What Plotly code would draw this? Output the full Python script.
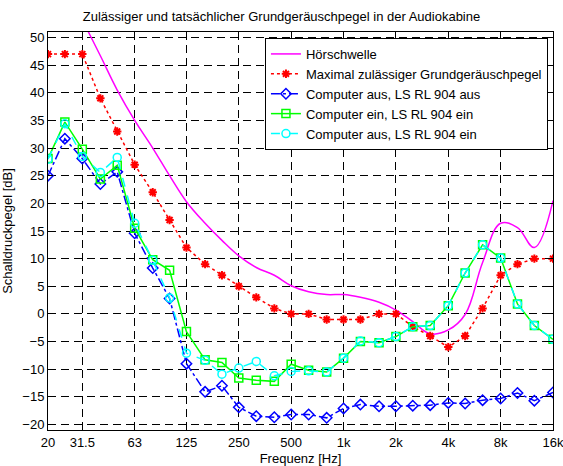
import plotly.graph_objects as go

freqs = [20, 25, 31.5, 40, 50, 63, 80, 100, 125, 160, 200, 250, 315, 400, 500,
         630, 800, 1000, 1250, 1600, 2000, 2500, 3150, 4000, 5000, 6300, 8000,
         10000, 12500, 16000]

hoerschwelle = [65.5, 59.5, 53.2, 46.7, 40.5, 35.0, 30.0, 25.0, 20.3, 16.4, 13.3, 10.5,
                8.4, 7.0, 5.1, 4.0, 3.5, 3.5, 3.0, 2.1, 0.7, -1.4, -3.6, -2.9, -0.1,
                9.3, 16.4, 15.6, 12.0, 20.5]

max_zul = [47, 47, 47, 39, 33, 27, 22, 17, 12, 9, 7, 5, 3, 1, 0, 0, -1, -1, -1, 0, 0,
           -2.3, -4, -6, -4, 1, 7, 9, 10, 10]

aus_aus = [25, 31.7, 28.1, 23.5, 25.7, 14.6, 8.3, 2.8, -9.0, -14.1, -13.0, -16.9,
           -18.5, -18.7, -18.2, -18.2, -18.8, -17.1, -16.4, -16.7, -16.7, -16.6,
           -16.5, -16.1, -16.2, -15.6, -15.3, -14.3, -15.7, -14.2]

ein_ein = [28.1, 34.7, 29.8, 24.4, 26.9, 15.5, 9.8, 7.9, -3.2, -8.3, -8.8, -11.6,
           -12.0, -12.2, -9.1, -10.2, -10.5, -8.0, -5.0, -5.2, -4.1, -2.3, -2.1,
           1.5, 7.4, 12.5, 10.1, 1.8, -2.1, -4.6]

aus_ein = [28.0, 34.4, 28.5, 25.6, 28.3, 16.4, 9.7, 2.9, -7.1, -8.4, -10.9, -9.8,
           -8.6, -11.2, -10.4, -10.3, -10.5, -8.0, -4.9, -5.2, -4.1, -2.3, -2.1,
           1.5, 7.4, 12.5, 10.1, 1.8, -2.1, -4.6]

tick_vals = [20, 31.5, 63, 125, 250, 500, 1000, 2000, 4000, 8000, 16000]
tick_text = ["20", "31.5", "63", "125", "250", "500", "1k", "2k", "4k", "8k", "16k"]
y_ticks = list(range(-20, 51, 5))

font = "Liberation Sans, Arial, Helvetica, sans-serif"
fs = 13

fig = go.Figure()
fig.add_trace(go.Scatter(x=freqs, y=hoerschwelle, mode="lines", name="Hörschwelle",
                         line=dict(color="#FF00FF", width=1.5, shape="spline", smoothing=1.1)))
fig.add_trace(go.Scatter(x=freqs, y=max_zul, mode="lines+markers",
                         name="Maximal zulässiger Grundgeräuschpegel",
                         line=dict(color="#FF0000", width=1.5, dash="dot"),
                         marker=dict(symbol="asterisk-open", size=7, color="#FF0000",
                                     line=dict(color="#FF0000", width=2))))
fig.add_trace(go.Scatter(x=freqs, y=aus_aus, mode="lines+markers",
                         name="Computer aus, LS RL 904 aus",
                         line=dict(color="#0000FF", width=1.5, dash="dashdot"),
                         marker=dict(symbol="diamond-open", size=8, color="#0000FF",
                                     line=dict(color="#0000FF", width=1.5))))
fig.add_trace(go.Scatter(x=freqs, y=ein_ein, mode="lines+markers",
                         name="Computer ein, LS RL 904 ein",
                         line=dict(color="#00FF00", width=1.5),
                         marker=dict(symbol="square-open", size=8, color="#00FF00",
                                     line=dict(color="#00FF00", width=1.5))))
fig.add_trace(go.Scatter(x=freqs, y=aus_ein, mode="lines+markers",
                         name="Computer aus, LS RL 904 ein",
                         line=dict(color="#00FFFF", width=1.5, dash="dash"),
                         marker=dict(symbol="circle-open", size=8, color="#00FFFF",
                                     line=dict(color="#00FFFF", width=1.5))))

axis_common = dict(showline=True, linecolor="black", linewidth=1, mirror="ticks",
                   ticks="inside", ticklen=5, tickcolor="black", automargin=False,
                   ticklabeloverflow="allow",
                   showgrid=True, gridcolor="black", gridwidth=1, griddash="8px,5px",
                   zeroline=False, tickfont=dict(family=font, size=fs, color="black"))

fig.update_xaxes(type="log", range=[1.30103, 4.20412], tickvals=tick_vals,
                 ticktext=tick_text,
                 title=dict(text="Frequenz [Hz]", font=dict(family=font, size=fs, color="black")),
                 **axis_common)
fig.update_yaxes(range=[-21, 51], tickvals=y_ticks,
                 title=dict(text="Schalldruckpegel [dB]", font=dict(family=font, size=fs, color="black")),
                 **axis_common)

fig.update_layout(
    width=563, height=466,
    margin=dict(l=48, r=10, t=32, b=36),
    paper_bgcolor="white", plot_bgcolor="white",
    title=dict(text="Zulässiger und tatsächlicher Grundgeräuschpegel in der Audiokabine",
               x=0.5, xanchor="center", y=0.974, yanchor="top",
               font=dict(family=font, size=fs, color="black")),
    font=dict(family=font, size=fs, color="black"),
    legend=dict(x=0.99, y=0.985, xanchor="right", yanchor="top",
                bgcolor="white", bordercolor="black", borderwidth=1,
                font=dict(family=font, size=fs, color="black"),
                tracegroupgap=0, itemwidth=30),
    showlegend=True,
)

fig.write_html("out.html", config={"displayModeBar": False},
               post_script="document.body.style.margin='0';document.body.style.padding='0';")
